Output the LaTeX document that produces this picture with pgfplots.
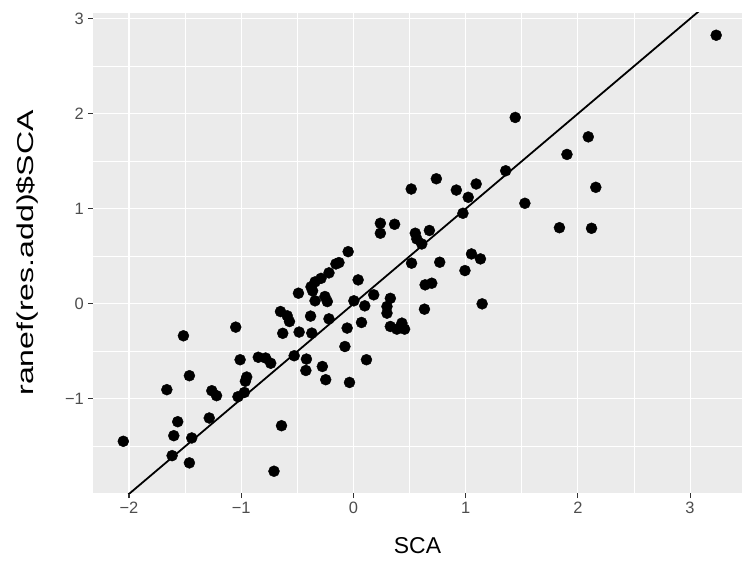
\documentclass[border=0pt]{standalone}
\usepackage{pgfplots}
\pgfplotsset{compat=1.18}
\usepackage{fontspec}
\setmainfont{Liberation Sans}
\definecolor{panelbg}{HTML}{EBEBEB}
\definecolor{tickcol}{HTML}{333333}
\definecolor{ticklab}{HTML}{4D4D4D}
\begin{document}
\begin{tikzpicture}
\begin{axis}[
  name=ax,
  scale only axis,
  width=649bp, height=480bp,
  xmin=-2.321, xmax=3.463,
  ymin=-1.99, ymax=3.06,
  axis background/.style={fill=panelbg},
  axis line style={draw=none},
  xtick={-2,-1,0,1,2,3},
  xticklabels={−2,−1,0,1,2,3},
  ytick={-1,0,1,2,3},
  yticklabels={−1,0,1,2,3},
  minor xtick={-1.5,-0.5,0.5,1.5,2.5},
  minor ytick={-1.5,-0.5,0.5,1.5,2.5},
  grid=both,
  major grid style={white, line width=1.1bp},
  minor grid style={white, line width=0.55bp},
  tick align=outside,
  tick pos=left,
  major tick length=5bp,
  minor tick length=0pt,
  every tick/.style={tickcol, line width=1.1bp},
  ticklabel style={font=\fontsize{16.5}{16.5}\selectfont, text=ticklab},
  xticklabel style={inner sep=0pt, anchor=north, yshift=-4bp},
  yticklabel style={inner sep=0pt, anchor=east, xshift=-4bp},
  xlabel={SCA},
  ylabel={ranef(res.add)\$SCA},
  every axis x label/.style={at={(axis description cs:0.5,-0.11)}, anchor=center, font=\fontsize{23}{23}\selectfont},
  every axis y label/.style={at={(axis description cs:-0.1017,0.5)}, rotate=90, xscale=1.4, anchor=center, font=\fontsize{23}{23}\selectfont},
]
\addplot[only marks, mark=*, mark size=5.5bp, black] coordinates {
(-0.650,-0.081) (-0.590,-0.126) (-0.570,-0.186) (-0.382,-0.129) (-1.049,-0.245)
(-1.515,-0.336) (-0.630,-0.310) (-0.484,-0.297) (-0.371,-0.308) (-0.528,-0.546)
(-0.419,-0.581) (-0.424,-0.701) (-1.010,-0.588) (-0.848,-0.562) (-0.783,-0.570)
(-0.737,-0.625) (-0.951,-0.770) (-0.963,-0.814) (-1.462,-0.756) (-1.663,-0.903)
(-1.262,-0.914) (-1.220,-0.966) (-1.029,-0.977) (-0.972,-0.932) (-0.641,-1.282)
(-1.285,-1.201) (-1.566,-1.240) (-1.601,-1.387) (-1.441,-1.411) (-2.051,-1.446)
(-1.616,-1.597) (-1.462,-1.673) (-0.708,-1.761)
(-0.047,0.549) (-0.129,0.434) (-0.156,0.420) (-0.218,0.326) (-0.289,0.268)
(-0.342,0.231) (-0.378,0.179) (-0.364,0.137) (-0.490,0.112) (0.042,0.252)
(-0.342,0.032) (-0.254,0.077) (-0.233,0.024) (0.004,0.032) (0.101,-0.021)
(0.181,0.095) (0.329,0.058) (0.299,-0.028) (0.299,-0.098) (0.329,-0.238)
(0.387,-0.266) (0.432,-0.203) (0.456,-0.266) (-0.218,-0.158) (-0.056,-0.255)
(0.072,-0.196) (-0.076,-0.449) (0.116,-0.588) (-0.035,-0.827) (-0.247,-0.798)
(-0.277,-0.659) (0.633,-0.056)
(0.240,0.848) (0.240,0.743) (0.367,0.837) (0.551,0.743) (0.565,0.683)
(0.677,0.772) (0.609,0.630) (0.518,0.428) (0.769,0.438) (0.639,0.200)
(0.698,0.217) (1.442,1.961) (2.093,1.757) (1.903,1.572) (1.357,1.400)
(0.739,1.316) (0.515,1.208) (0.917,1.197) (1.094,1.261) (1.023,1.121)
(2.160,1.226) (0.976,0.953) (1.528,1.058) (1.836,0.801) (2.122,0.795)
(1.052,0.525) (1.132,0.473) (0.994,0.350) (1.147,0.000) (3.233,2.826)
};
\addplot[black, line width=1.8bp, no marks] coordinates {(-2.5,-2.5) (3.6,3.6)};
\end{axis}
\pgfresetboundingbox
\path ([xshift=-93bp,yshift=-71bp]ax.south west) rectangle ([yshift=13bp]ax.north east);
\end{tikzpicture}
\end{document}
